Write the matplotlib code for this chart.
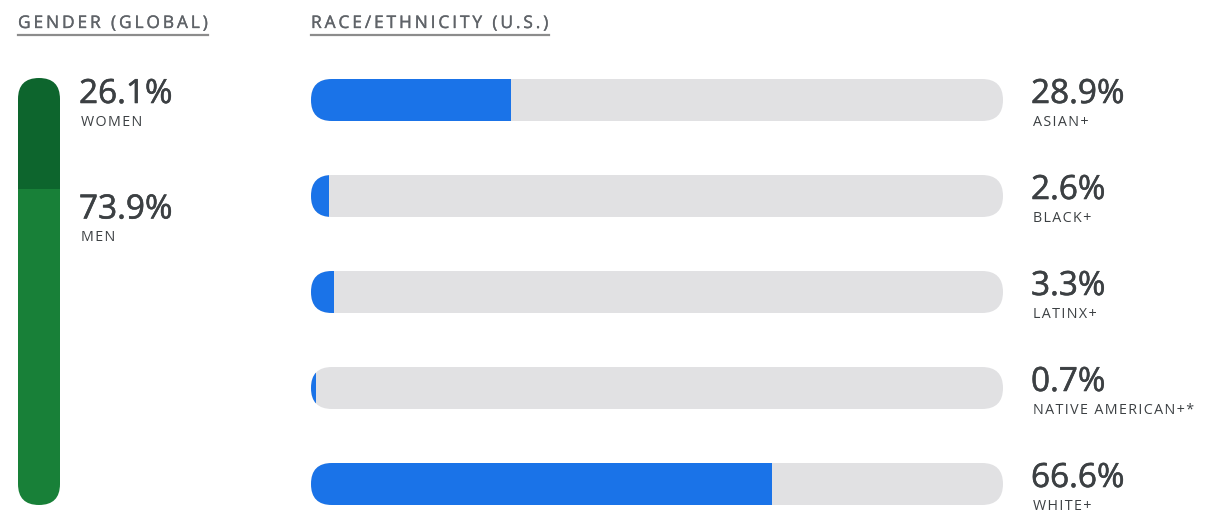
#!/usr/bin/env python3
# Workforce representation: gender (global) and race/ethnicity (U.S.)
import matplotlib.pyplot as plt
import matplotlib.patheffects as pe
from matplotlib.patches import FancyBboxPatch
from matplotlib.lines import Line2D

gender_labels = ['WOMEN', 'MEN']
gender_share = [26.1, 73.9]
gender_colors = ['#0d652d', '#188038']

race_labels = ['ASIAN+', 'BLACK+', 'LATINX+', 'NATIVE AMERICAN+*', 'WHITE+']
race_share = [28.9, 2.6, 3.3, 0.7, 66.6]

BLUE = '#1a73e8'
TRACK = '#e1e1e3'
DARK = '#3c4043'
GREY = '#5f6368'

plt.rcParams['font.family'] = ['Open Sans', 'DejaVu Sans']

W, H = 1218, 514
fig = plt.figure(figsize=(W / 100, H / 100), dpi=100)


def px_axes(x0, y0, x1, y1):
    # place an axes by its pixel box, origin at top left
    ax = fig.add_axes([x0 / W, 1 - y1 / H, (x1 - x0) / W, (y1 - y0) / H])
    ax.set_axis_off()
    return ax


def spaced(s, gap='\u200a'):
    # fake letter spacing
    return gap.join(s)


def heavier(color, lw):
    # thin outline in the text colour, a bit more weight than Regular
    return [pe.withStroke(linewidth=lw, foreground=color)]


num_kw = dict(fontsize=24, color=DARK, va='baseline', ha='left',
              path_effects=heavier(DARK, 0.4))
lab_kw = dict(fontsize=10.3, color=DARK, va='baseline', ha='left')

# --- gender column ---
ax = px_axes(18, 78, 60, 505)
ax.set_xlim(0, 1)
ax.set_ylim(100, 0)
track = FancyBboxPatch((0, 0), 1, 100, boxstyle='round,pad=0,rounding_size=0.5',
                       mutation_aspect=(100 / 427) / (1 / 42),
                       facecolor='none', edgecolor='none', transform=ax.transData)
ax.add_patch(track)
bottom = 0
offsets = [-25, -29]
for lab, v, c, dy in zip(gender_labels, gender_share, gender_colors, offsets):
    bars = ax.bar(0.5, v, width=1, bottom=bottom, color=c)
    for b in bars:
        b.set_clip_path(track)
    ax.annotate(f'{v}%', xy=(1, bottom), xytext=(19, dy), textcoords='offset pixels', **num_kw)
    ax.annotate(spaced(lab), xy=(1, bottom), xytext=(21, dy - 23), textcoords='offset pixels',
                **lab_kw)
    bottom += v

# --- race / ethnicity rows ---
ax2 = px_axes(311, 79, 1003, 505)
h = 42 / 96
ax2.set_xlim(0, 100)
ax2.set_ylim(len(race_share) - 1 + h / 2, -h / 2)
for i, (lab, v) in enumerate(zip(race_labels, race_share)):
    tr = FancyBboxPatch((0, i - h / 2), 100, h,
                        boxstyle='round,pad=0,rounding_size=%f' % (21 * 100 / 692),
                        mutation_aspect=(1 / 96) / (100 / 692),
                        facecolor=TRACK, edgecolor='none')
    ax2.add_patch(tr)
    bars = ax2.barh(i, v, height=h, left=0, color=BLUE)
    for b in bars:
        b.set_clip_path(tr)
    ax2.annotate(f'{v}%', xy=(100, i), xytext=(28, -3), textcoords='offset pixels', **num_kw)
    ax2.annotate(spaced(lab), xy=(100, i), xytext=(30, -26), textcoords='offset pixels',
                 **lab_kw)

# --- headers with underline ---
headers = [(18, 'GENDER (GLOBAL)'), (311, 'RACE/ETHNICITY (U.S.)')]
titles = []
for x, s in headers:
    t = fig.text(x / W, 1 - 28 / H, spaced(s, '\u2009'), fontsize=12.5, color=GREY,
                 va='baseline', ha='left', path_effects=heavier(GREY, 0.25))
    titles.append(t)
fig.canvas.draw()
r = fig.canvas.get_renderer()
for t in titles:
    bb = t.get_window_extent(r)
    fig.add_artist(Line2D([bb.x0 / W, bb.x1 / W], [1 - 35 / H] * 2, color='#8c8c8c',
                          lw=1.6, transform=fig.transFigure))

fig.savefig('out.png', dpi=100)
